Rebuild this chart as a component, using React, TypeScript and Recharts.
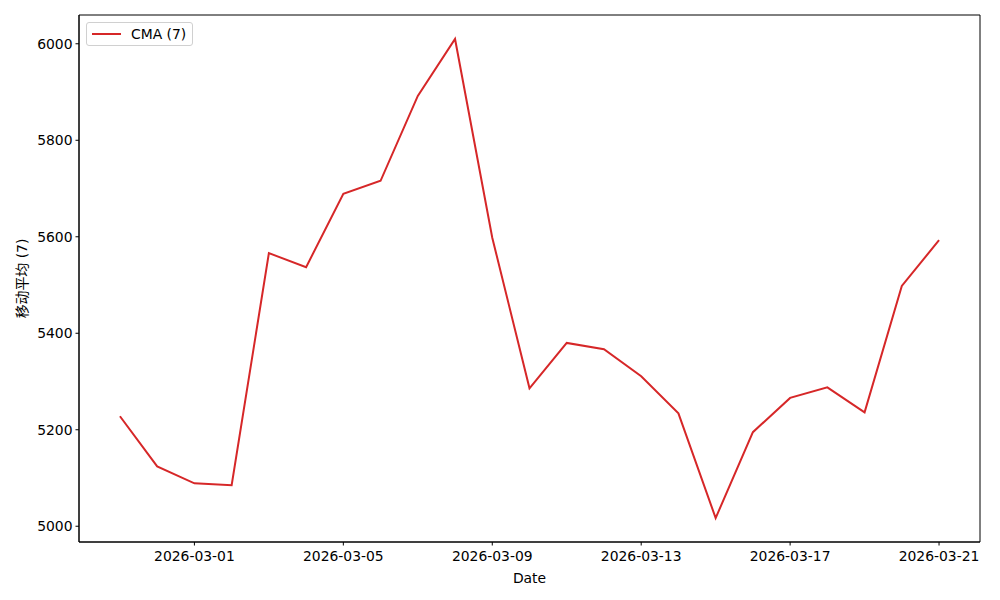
import { LineChart, Line, XAxis, YAxis, ReferenceArea } from 'recharts';

const DATES = [
  '2026-02-27', '2026-02-28', '2026-03-01', '2026-03-02', '2026-03-03', '2026-03-04',
  '2026-03-05', '2026-03-06', '2026-03-07', '2026-03-08', '2026-03-09', '2026-03-10',
  '2026-03-11', '2026-03-12', '2026-03-13', '2026-03-14', '2026-03-15', '2026-03-16',
  '2026-03-17', '2026-03-18', '2026-03-19', '2026-03-20', '2026-03-21',
];

const CMA_7 = [
  5228, 5124, 5089, 5085, 5566, 5537,
  5689, 5716, 5892, 6010, 5598, 5286,
  5380, 5367, 5311, 5234, 5017, 5195,
  5266, 5288, 5236, 5498, 5593,
];

const X_TICK_DATES = ['2026-03-01', '2026-03-05', '2026-03-09', '2026-03-13', '2026-03-17', '2026-03-21'];
const Y_TICKS = [5000, 5200, 5400, 5600, 5800, 6000];

const SERIES_NAME = 'CMA (7)';
const Y_LABEL = '移动平均 (7)';
const X_LABEL = 'Date';

const DAY = 86400000;
const RED = '#d62728';
const FONT = '"DejaVu Sans", "Noto Sans CJK SC", sans-serif';
const FS = 13.9;

const toTime = (d: string) => Date.parse(d + 'T00:00:00Z');
const fmtDate = (t: number) => new Date(t).toISOString().slice(0, 10);

const data = DATES.map((d, i) => ({ t: toTime(d), cma: CMA_7[i] }));
const tMin = data[0].t;
const tMax = data[data.length - 1].t;
const pad = (tMax - tMin) * 0.05;
const vMin = Math.min(...CMA_7);
const vMax = Math.max(...CMA_7);
const vPad = (vMax - vMin) * 0.05;
const xDomain = [tMin - pad, tMax + pad];
const yDomain = [vMin - vPad, vMax + vPad];

const tickStyle = { fill: '#000', fontSize: FS, fontFamily: FONT };

function LegendBox() {
  return (
    <div
      style={{
        position: 'absolute',
        left: 86,
        top: 22,
        display: 'flex',
        alignItems: 'center',
        border: '1px solid #d0d0d0',
        borderRadius: 3,
        background: '#fff',
        padding: '3px 6px 3px 5px',
        fontFamily: FONT,
        fontSize: FS,
        color: '#000',
      }}
    >
      <span style={{ display: 'inline-block', width: 29, height: 2, background: RED, marginRight: 10 }} />
      <span>{SERIES_NAME}</span>
    </div>
  );
}

export default function App() {
  return (
    <div style={{ position: 'absolute', left: 0, top: 0, width: 1000, height: 600, background: '#fff' }}>
      <LineChart width={1000} height={600} data={data} margin={{ top: 15, right: 20, bottom: 0, left: 0 }}>
        <XAxis
          dataKey="t"
          type="number"
          domain={xDomain}
          ticks={X_TICK_DATES.map(toTime)}
          tickFormatter={fmtDate}
          allowDataOverflow
          height={58}
          tick={tickStyle}
          tickSize={3.5}
          tickMargin={6}
          stroke="#000"
          label={{ value: X_LABEL, position: 'insideBottom', offset: 17, fill: '#000', fontSize: FS, fontFamily: FONT }}
        />
        <YAxis
          type="number"
          domain={yDomain}
          ticks={Y_TICKS}
          allowDataOverflow
          width={79}
          tick={tickStyle}
          tickSize={3.5}
          tickMargin={3}
          stroke="#000"
          label={{
            content: () => (
              <text
                x={22}
                y={278.5}
                transform="rotate(-90 22 278.5)"
                textAnchor="middle"
                dominantBaseline="central"
                fill="#000"
                fontSize={FS}
                fontFamily={FONT}
              >
                {Y_LABEL}
              </text>
            ),
          }}
        />
        <ReferenceArea
          x1={xDomain[0]}
          x2={xDomain[1]}
          y1={yDomain[0]}
          y2={yDomain[1]}
          fill="none"
          stroke="#000"
          strokeWidth={1}
          ifOverflow="visible"
        />
        <Line
          type="linear"
          dataKey="cma"
          name={SERIES_NAME}
          stroke={RED}
          strokeWidth={2}
          dot={false}
          isAnimationActive={false}
        />
      </LineChart>
      <LegendBox />
    </div>
  );
}
